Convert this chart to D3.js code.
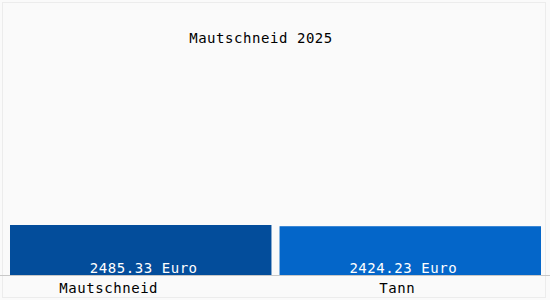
<!DOCTYPE html>
<html>
<head>
<meta charset="utf-8">
<script src="https://cdn.jsdelivr.net/npm/d3@7"></script>
<style>
  body { margin: 0; background: #ffffff; }
  text { font-family: "DejaVu Sans Mono", monospace; font-size: 14px; letter-spacing: 0.55px; }
</style>
</head>
<body>
<div id="chart"></div>
<script>
// Chart values
var title = "Mautschneid 2025";
var categories = ["Mautschneid", "Tann"];
var values = [2485.33, 2424.23];
var valueLabels = ["2485.33 Euro", "2424.23 Euro"];
var barColors = ["#034d9b", "#0466c9"];

var svgWidth = 550;
var svgHeight = 300;

var svg = d3.select("#chart")
  .append("svg")
  .attr("width", svgWidth)
  .attr("height", svgHeight);

// background and faint frame
svg.append("rect")
  .attr("x", 0).attr("y", 0)
  .attr("width", svgWidth).attr("height", svgHeight)
  .attr("fill", "#fafafa");
svg.append("rect")
  .attr("x", 2.5).attr("y", 2.5)
  .attr("width", 543).attr("height", 295)
  .attr("fill", "none")
  .attr("stroke", "#ececec");

// Scales
var xScale = d3.scaleBand()
  .domain(categories)
  .range([10, 541])
  .paddingInner(0.03)
  .paddingOuter(0);

var yScale = d3.scaleLinear()
  .domain([0, d3.max(values)])
  .range([275, 225]);

// Bars
svg.selectAll(".bar")
  .data(categories)
  .enter()
  .append("rect")
  .attr("class", "bar")
  .attr("x", d => xScale(d))
  .attr("y", (d, i) => yScale(values[i]))
  .attr("width", xScale.bandwidth())
  .attr("height", (d, i) => yScale(0) - yScale(values[i]))
  .attr("fill", (d, i) => barColors[i]);

// Value labels inside bars
var valOffsets = [3, -7];
svg.selectAll(".vlabel")
  .data(categories)
  .enter()
  .append("text")
  .attr("class", "vlabel")
  .attr("x", (d, i) => xScale(d) + xScale.bandwidth() / 2 + valOffsets[i])
  .attr("y", 273)
  .attr("text-anchor", "middle")
  .attr("fill", "#ffffff")
  .text((d, i) => valueLabels[i]);

// Baseline
var xAxis = d3.axisBottom(xScale).tickSize(0).tickFormat("");
svg.append("g")
  .attr("transform", "translate(0,275.5)")
  .call(xAxis)
  .call(g => g.select(".domain").attr("stroke", "#c8c8c8").attr("d", "M0,0H550"));

// Category labels
var catOffsets = [-32, -13];
svg.selectAll(".clabel")
  .data(categories)
  .enter()
  .append("text")
  .attr("class", "clabel")
  .attr("x", (d, i) => xScale(d) + xScale.bandwidth() / 2 + catOffsets[i])
  .attr("y", 293)
  .attr("text-anchor", "middle")
  .attr("fill", "#000000")
  .text(d => d);

// Title
svg.append("text")
  .attr("x", 261)
  .attr("y", 43)
  .attr("text-anchor", "middle")
  .attr("fill", "#000000")
  .text(title);
</script>
</body>
</html>
